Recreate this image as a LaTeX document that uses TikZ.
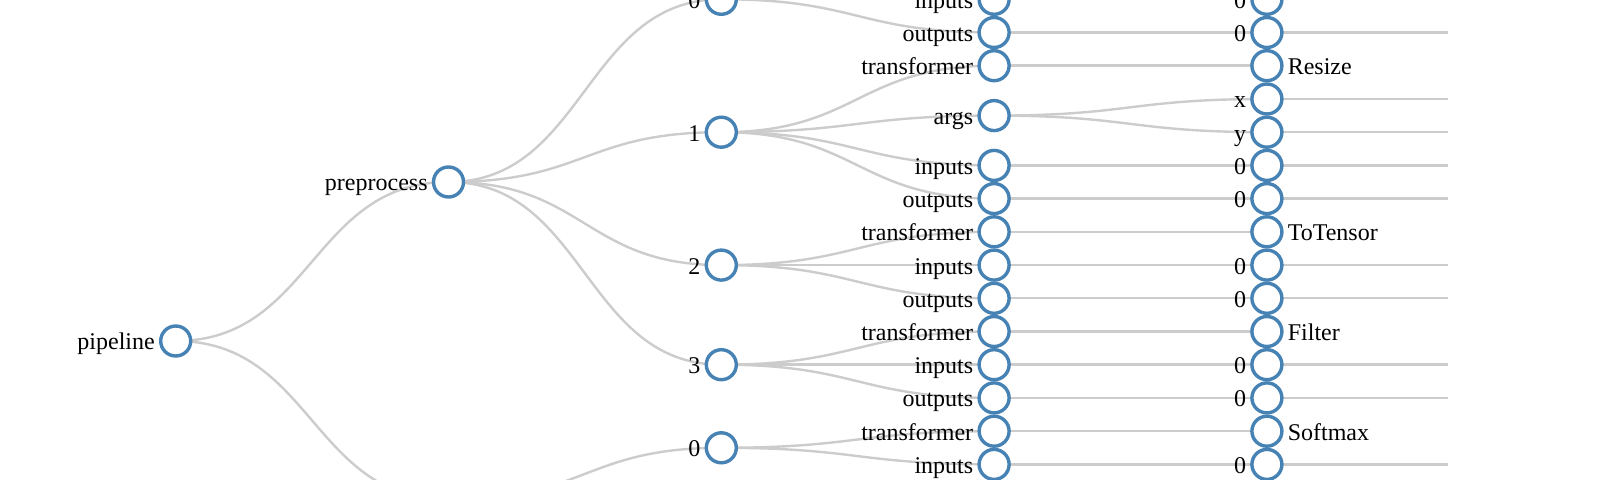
\documentclass[tikz,border=0pt]{standalone}
\usepackage{fontspec}
\setmainfont{Liberation Serif}
\usetikzlibrary{backgrounds}
\definecolor{steelblue}{RGB}{70,130,180}
\definecolor{linkgray}{RGB}{204,204,204}
\tikzset{
  dot/.style={circle,draw=steelblue,fill=white,line width=1.7pt,minimum size=15pt,inner sep=0pt},
  lab/.style={text height=9pt,text depth=0pt,inner sep=0pt},
  link/.style={draw=linkgray,line width=1.2pt},
}

\begin{document}
\begin{tikzpicture}[x=0.5pt,y=-0.5pt,label distance=1.9pt,font=\fontsize{12}{14}\selectfont]
  \useasboundingbox (0,0) rectangle (1600,480);
  % root and stages
  \node[dot,label={[lab]left:pipeline}] (pipe) at (175.7,341) {};
  \node[dot,label={[lab]left:preprocess}] (pre) at (448.5,182) {};
  \coordinate (post) at (448.5,500);
  % steps
  \node[dot,label={[lab]left:0}] (s0) at (721.3,-0.7) {};
  \node[dot,label={[lab]left:1}] (s1) at (721.3,132.2) {};
  \node[dot,label={[lab]left:2}] (s2) at (721.3,265.1) {};
  \node[dot,label={[lab]left:3}] (s3) at (721.3,364.7) {};
  \node[dot,label={[lab]left:0}] (t0) at (721.3,447.8) {};
  % fields
  \node[dot,label={[lab]left:inputs}] (s0in) at (994.1,-0.7) {};
  \node[dot,label={[lab]left:outputs}] (s0out) at (994.1,32.5) {};
  \node[dot,label={[lab]left:transformer}] (s1tr) at (994.1,65.7) {};
  \node[dot,label={[lab]left:args}] (s1args) at (994.1,115.6) {};
  \node[dot,label={[lab]left:inputs}] (s1in) at (994.1,165.4) {};
  \node[dot,label={[lab]left:outputs}] (s1out) at (994.1,198.6) {};
  \node[dot,label={[lab]left:transformer}] (s2tr) at (994.1,231.8) {};
  \node[dot,label={[lab]left:inputs}] (s2in) at (994.1,265.1) {};
  \node[dot,label={[lab]left:outputs}] (s2out) at (994.1,298.3) {};
  \node[dot,label={[lab]left:transformer}] (s3tr) at (994.1,331.5) {};
  \node[dot,label={[lab]left:inputs}] (s3in) at (994.1,364.7) {};
  \node[dot,label={[lab]left:outputs}] (s3out) at (994.1,397.9) {};
  \node[dot,label={[lab]left:transformer}] (t0tr) at (994.1,431.2) {};
  \node[dot,label={[lab]left:inputs}] (t0in) at (994.1,464.4) {};
  % values
  \node[dot,label={[lab]left:0}] (s0in0) at (1266.9,-0.7) {};
  \node[dot,label={[lab]left:0}] (s0out0) at (1266.9,32.5) {};
  \node[dot,label={[lab]right:Resize}] (s1trv) at (1266.9,65.7) {};
  \node[dot,label={[lab]left:x}] (s1x) at (1266.9,99.0) {};
  \node[dot,label={[lab]left:y}] (s1y) at (1266.9,132.2) {};
  \node[dot,label={[lab]left:0}] (s1in0) at (1266.9,165.4) {};
  \node[dot,label={[lab]left:0}] (s1out0) at (1266.9,198.6) {};
  \node[dot,label={[lab]right:ToTensor}] (s2trv) at (1266.9,231.8) {};
  \node[dot,label={[lab]left:0}] (s2in0) at (1266.9,265.1) {};
  \node[dot,label={[lab]left:0}] (s2out0) at (1266.9,298.3) {};
  \node[dot,label={[lab]right:Filter}] (s3trv) at (1266.9,331.5) {};
  \node[dot,label={[lab]left:0}] (s3in0) at (1266.9,364.7) {};
  \node[dot,label={[lab]left:0}] (s3out0) at (1266.9,397.9) {};
  \node[dot,label={[lab]right:Softmax}] (t0trv) at (1266.9,431.2) {};
  \node[dot,label={[lab]left:0}] (t0in0) at (1266.9,464.4) {};
  % links
  \begin{scope}[on background layer]
    \foreach \a/\b in {pipe/pre,pipe/post,pre/s0,pre/s1,pre/s2,pre/s3,post/t0,
        s0/s0in,s0/s0out,s1/s1tr,s1/s1args,s1/s1in,s1/s1out,
        s2/s2tr,s2/s2in,s2/s2out,s3/s3tr,s3/s3in,s3/s3out,t0/t0tr,t0/t0in,
        s0in/s0in0,s0out/s0out0,s1tr/s1trv,s1args/s1x,s1args/s1y,s1in/s1in0,s1out/s1out0,
        s2tr/s2trv,s2in/s2in0,s2out/s2out0,s3tr/s3trv,s3in/s3in0,s3out/s3out0,
        t0tr/t0trv,t0in/t0in0}
      \draw[link] (\a.center) .. controls +(136.4,0) and +(-136.4,0) .. (\b.center);
    \foreach \n in {s0in0,s0out0,s1x,s1y,s1in0,s1out0,s2in0,s2out0,s3in0,s3out0,t0in0} {
      \coordinate (\n-end) at ([xshift=90.5pt]\n.center);
      \draw[link] (\n.center) -- (\n-end);
    }
  \end{scope}
\end{tikzpicture}
\end{document}
